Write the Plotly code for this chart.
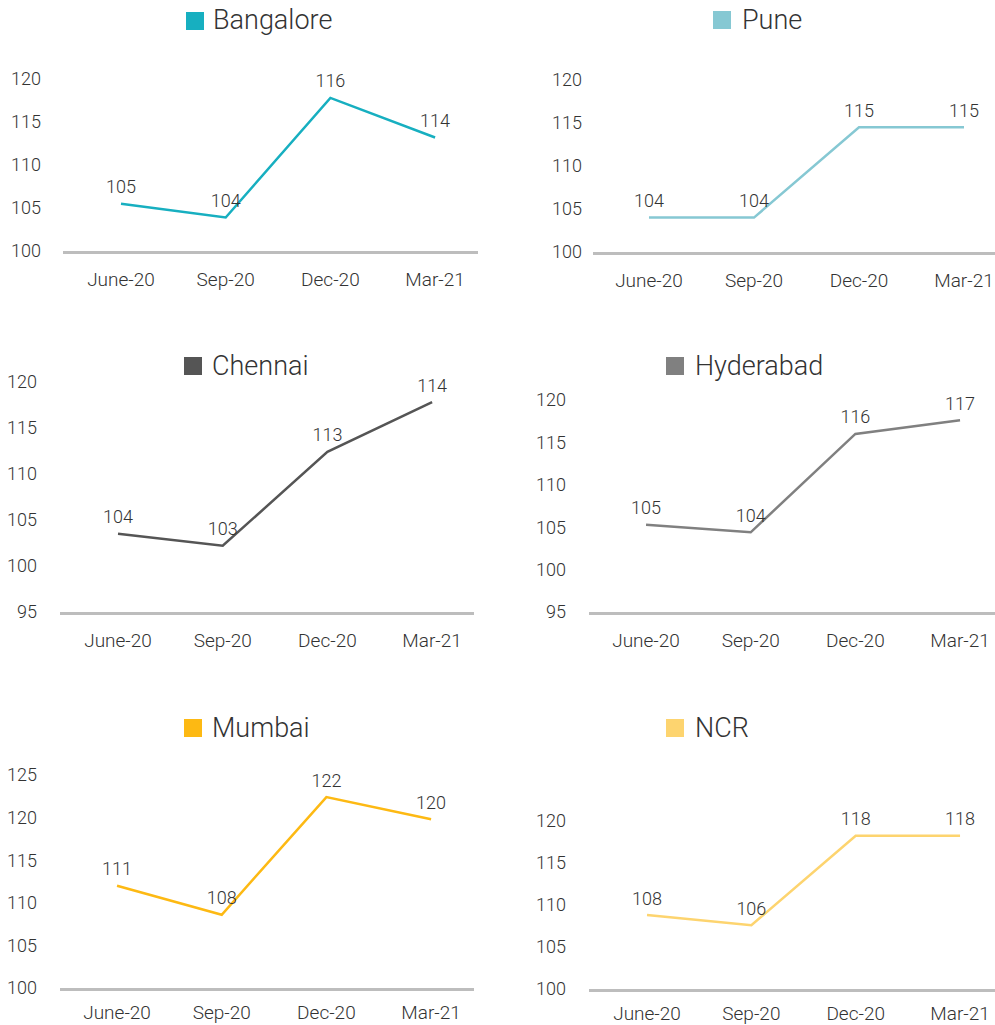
import plotly.graph_objects as go

W, H = 995, 1025

categories = ["June-20", "Sep-20", "Dec-20", "Mar-21"]

cities = ["Bangalore", "Pune", "Chennai", "Hyderabad", "Mumbai", "NCR"]
colors = ["#17AFC0", "#86C8D3", "#555555", "#808080", "#FDB913", "#FDD46F"]

# line positions read against each panel's axis
bangalore = [105.5, 103.9, 117.8, 113.2]
pune = [104.0, 104.0, 114.5, 114.5]
chennai = [103.5, 102.2, 112.4, 117.8]
hyderabad = [105.3, 104.4, 116.0, 117.6]
mumbai = [112.0, 108.6, 122.4, 119.8]
ncr = [108.8, 107.6, 118.25, 118.25]

# data labels as printed on the chart
bangalore_labels = [105, 104, 116, 114]
pune_labels = [104, 104, 115, 115]
chennai_labels = [104, 103, 113, 114]
hyderabad_labels = [105, 104, 116, 117]
mumbai_labels = [111, 108, 122, 120]
ncr_labels = [108, 106, 118, 118]

series = [bangalore, pune, chennai, hyderabad, mumbai, ncr]
labels = [bangalore_labels, pune_labels, chennai_labels, hyderabad_labels,
          mumbai_labels, ncr_labels]

yticks = [
    [100, 105, 110, 115, 120],
    [100, 105, 110, 115, 120],
    [95, 100, 105, 110, 115, 120],
    [95, 100, 105, 110, 115, 120],
    [100, 105, 110, 115, 120, 125],
    [100, 105, 110, 115, 120],
]

# panel layout in pixels
panels = [
    dict(L=63, R=478, base=251, ppu=8.6, ymin=100, ymax=122, lab=41,
         xr=[-0.554, 3.41], sq=(186, 12), tx=(211, 20), so=9),
    dict(L=593, R=995, base=252, ppu=8.6, ymin=100, ymax=122, lab=582,
         xr=[-0.533, 3.295], sq=(713, 11), tx=(740, 20), so=9),
    dict(L=60, R=474, base=612, ppu=9.2, ymin=95, ymax=121, lab=37,
         xr=[-0.554, 3.40], sq=(184, 357), tx=(210, 366), so=9),
    dict(L=589, R=995, base=612, ppu=8.48, ymin=95, ymax=122, lab=566,
         xr=[-0.545, 3.334], sq=(666, 357), tx=(693, 366), so=9),
    dict(L=60, R=474, base=988, ppu=8.52, ymin=100, ymax=127, lab=37,
         xr=[-0.545, 3.41], sq=(184, 719), tx=(210, 728), so=5),
    dict(L=589, R=995, base=989, ppu=8.4, ymin=100, ymax=122, lab=566,
         xr=[-0.556, 3.335], sq=(666, 719), tx=(693, 728), so=5),
]
SQ = 18

FONT = "Roboto"
WEIGHT = 300
TXT = "#333333"

fig = go.Figure()
layout = dict(
    width=W, height=H,
    margin=dict(l=0, r=0, t=0, b=0, pad=0, autoexpand=False),
    paper_bgcolor="white", plot_bgcolor="white",
    showlegend=False,
    font=dict(family=FONT, color=TXT, size=18, weight=WEIGHT),
)
annotations, shapes = [], []

for i, (city, col, vals, labs, p, tv) in enumerate(
        zip(cities, colors, series, labels, panels, yticks)):
    n = "" if i == 0 else str(i + 1)
    top = p["base"] - (p["ymax"] - p["ymin"]) * p["ppu"]
    fig.add_trace(go.Scatter(
        x=categories, y=vals, mode="lines+markers+text",
        text=[str(v) for v in labs], textposition="top center",
        textfont=dict(family=FONT, size=18, color=TXT, weight=WEIGHT),
        line=dict(color=col, width=2.5),
        marker=dict(size=8, color="rgba(0,0,0,0)"),
        xaxis="x" + n, yaxis="y" + n, showlegend=False,
        hoverinfo="skip", cliponaxis=False,
    ))
    layout["xaxis" + n] = dict(
        domain=[p["L"] / W, p["R"] / W], anchor="y" + n,
        type="category", range=p["xr"],
        showline=True, linecolor="#BDBDBD", linewidth=3,
        showgrid=False, zeroline=False, ticks="", automargin=False,
        tickfont=dict(family=FONT, size=19, color=TXT, weight=WEIGHT),
        ticklabelstandoff=p["so"], fixedrange=True,
    )
    layout["yaxis" + n] = dict(
        domain=[1 - p["base"] / H, 1 - top / H], anchor="free",
        position=p["lab"] / W, automargin=False,
        range=[p["ymin"], p["ymax"]], tickvals=tv,
        showline=False, showgrid=False, zeroline=False, ticks="",
        tickfont=dict(family=FONT, size=18, color=TXT, weight=WEIGHT),
        fixedrange=True,
    )
    # legend swatch + city name
    shapes.append(dict(
        type="rect", xref="paper", yref="paper",
        x0=p["sq"][0] / W, x1=(p["sq"][0] + SQ) / W,
        y0=1 - (p["sq"][1] + SQ) / H, y1=1 - p["sq"][1] / H,
        fillcolor=col, line=dict(width=0),
    ))
    annotations.append(dict(
        text=city, xref="paper", yref="paper",
        x=p["tx"][0] / W, y=1 - p["tx"][1] / H,
        xanchor="left", yanchor="middle", showarrow=False,
        font=dict(family=FONT, size=27, color=TXT, weight=WEIGHT),
    ))

layout["annotations"] = annotations
layout["shapes"] = shapes
fig.update_layout(**layout)
fig.write_html("out.html")
